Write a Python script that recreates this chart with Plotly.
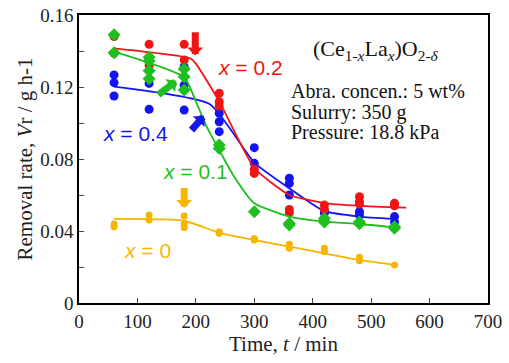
import plotly.graph_objects as go

# ---- data ----
red_t = [60, 60, 120, 120, 120, 180, 180, 240, 240, 240, 300, 300, 360, 360, 420, 420, 480, 480, 480, 540, 540]
red_v = [0.148, 0.1387, 0.1437, 0.1357, 0.132, 0.1437, 0.135, 0.1165, 0.1118, 0.1094, 0.0743, 0.072,
         0.052, 0.0502, 0.0544, 0.052, 0.059, 0.0563, 0.055, 0.0554, 0.054]
blue_t = [60, 60, 60, 120, 120, 180, 180, 180, 240, 240, 240, 300, 300, 360, 360, 360, 420, 420, 480, 480, 540, 540]
blue_v = [0.1267, 0.1224, 0.115, 0.122, 0.1076, 0.1313, 0.121, 0.1072, 0.1054, 0.1007, 0.0952, 0.0863, 0.0776,
          0.0693, 0.0665, 0.060, 0.0507, 0.050, 0.0507, 0.0489, 0.048, 0.045]
green_t = [60, 60, 120, 120, 120, 120, 180, 180, 180, 240, 240, 300, 360, 360, 420, 420, 480, 480, 540, 540]
green_v = [0.149, 0.139, 0.1365, 0.1344, 0.129, 0.1246, 0.130, 0.1257, 0.1183, 0.0878, 0.0859, 0.0507,
           0.0443, 0.0433, 0.047, 0.045, 0.045, 0.044, 0.0424, 0.0415]
yellow_t = [60, 60, 120, 120, 180, 180, 180, 240, 240, 300, 300, 360, 360, 420, 420, 480, 480, 540]
yellow_v = [0.0439, 0.0424, 0.0489, 0.0461, 0.0483, 0.0439, 0.042, 0.0396, 0.0387, 0.0359, 0.035,
            0.0326, 0.0304, 0.0304, 0.0285, 0.0254, 0.0235, 0.0211]

# fitted curves
red_fit_t = [60, 190, 200, 240, 300, 360, 420, 480, 560]
red_fit_v = [0.1415, 0.136, 0.133, 0.112, 0.075, 0.060, 0.0555, 0.054, 0.053]
blue_fit_t = [60, 224, 300, 360, 420, 480, 540]
blue_fit_v = [0.1202, 0.1104, 0.078, 0.0637, 0.051, 0.048, 0.0467]
green_fit_t = [60, 180, 200, 220, 240, 264, 300, 360, 420, 480, 540]
green_fit_v = [0.1396, 0.1254, 0.112, 0.097, 0.085, 0.071, 0.0554, 0.048, 0.0452, 0.0439, 0.042]
yellow_fit_t = [60, 180, 240, 300, 360, 420, 480, 540]
yellow_fit_v = [0.0467, 0.0457, 0.039, 0.035, 0.0313, 0.0276, 0.0239, 0.0211]

x_ticks = [0, 100, 200, 300, 400, 500, 600, 700]
y_ticks = [0, 0.04, 0.08, 0.12, 0.16]
y_tick_labels = ["0", "0.04", "0.08", "0.12", "0.16"]

RED = "#f01414"
BLUE = "#1414f0"
GREEN = "#1fbf1f"
YELLOW = "#f7b500"

fig = go.Figure()

def fit(t, v, c):
    fig.add_trace(go.Scatter(x=t, y=v, mode="lines", line=dict(color=c, width=1.8, shape="spline", smoothing=0.5),
                             hoverinfo="skip", showlegend=False))

def pts(t, v, c, sym, size):
    fig.add_trace(go.Scatter(x=t, y=v, mode="markers", marker=dict(color=c, symbol=sym, size=size, line=dict(width=0)),
                             showlegend=False))

fit(yellow_fit_t, yellow_fit_v, YELLOW)
pts(yellow_t, yellow_v, YELLOW, "circle", 7)
pts(blue_t, blue_v, BLUE, "circle", 9)
fit(blue_fit_t, blue_fit_v, BLUE)
pts(red_t, red_v, RED, "circle", 9)
fit(red_fit_t, red_fit_v, RED)
pts(green_t, green_v, GREEN, "diamond", 10)
fit(green_fit_t, green_fit_v, GREEN)

serif = "Liberation Serif"
sans = "Liberation Sans"

fig.update_layout(
    width=509, height=363,
    margin=dict(l=79, r=21, t=15, b=60),
    paper_bgcolor="white", plot_bgcolor="white",
    xaxis=dict(range=[0, 700], tickvals=x_ticks, ticks="inside", ticklen=5, tickwidth=1.2, automargin=False,
               showline=True, linecolor="black", linewidth=1.5, mirror=True, showgrid=False, zeroline=False,
               tickfont=dict(family=serif, size=19, color="#222"),
               title=dict(text="Time, <i>t</i> / min", font=dict(family=serif, size=21, color="#222"), standoff=3)),
    yaxis=dict(range=[0, 0.16], tickvals=y_ticks, ticktext=y_tick_labels, ticks="inside", ticklen=5, tickwidth=1.2,
               automargin=False,
               minor=dict(dtick=0.02, ticks="inside", ticklen=5, tickwidth=1.2),
               showline=True, linecolor="black", linewidth=1.5, mirror=True, showgrid=False, zeroline=False,
               tickfont=dict(family=serif, size=19, color="#222"),
               title=dict(text="Removal rate, <i>V</i>r / g h-1", font=dict(family=serif, size=21, color="#222"), standoff=2)),
)

def label(text, x, y, c):
    fig.add_annotation(x=x, y=y, xref="x", yref="y", text=text, showarrow=False,
                       font=dict(family=sans, size=21, color=c))

label("<i>x</i> = 0.2", 293, 0.1306, RED)
label("<i>x</i> = 0.4", 96, 0.0944, BLUE)
label("<i>x</i> = 0.1", 200, 0.0728, GREEN)
label("<i>x</i> = 0", 118, 0.0294, YELLOW)

def arrow(xt, yt, xs, ys, c):
    fig.add_annotation(x=xt, y=yt, ax=xs, ay=ys, xref="x", yref="y", axref="x", ayref="y",
                       text="", font=dict(size=1), borderpad=0, width=1, height=1,
                       showarrow=True, arrowhead=1, arrowsize=0.38, arrowwidth=7, arrowcolor=c)

arrow(199, 0.1375, 199, 0.1510, RED)
arrow(180, 0.0528, 180, 0.0645, YELLOW)
arrow(167, 0.1235, 134, 0.1153, GREEN)
arrow(214, 0.1040, 191, 0.0955, BLUE)

fig.add_annotation(x=509, y=0.1405, xref="x", yref="y", showarrow=False,
                   text="(Ce<sub>1-<i>x</i></sub>La<sub><i>x</i></sub>)O<sub>2-<i>δ</i></sub>",
                   font=dict(family=serif, size=22, color="#111"))
info_lines = ["Abra. concen.: 5 wt%", "Sulurry: 350 g", "Pressure: 18.8 kPa"]
info_y = [0.1178, 0.1061, 0.0950]
for txt, yy in zip(info_lines, info_y):
    fig.add_annotation(x=360, y=yy, xref="x", yref="y", showarrow=False, xanchor="left",
                       text=txt, font=dict(family=serif, size=20, color="#111"))

fig.write_html("out.html", config={"displayModeBar": False},
               post_script="document.body.style.margin='0';")
